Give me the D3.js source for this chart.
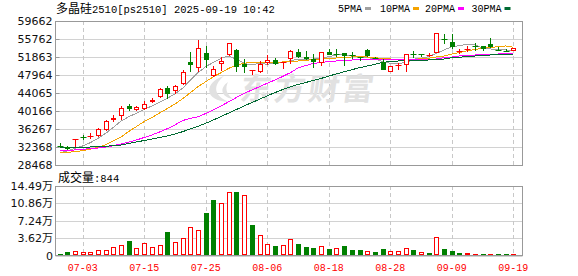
<!DOCTYPE html>
<html lang="zh">
<head>
<meta charset="UTF-8">
<script src="https://cdnjs.cloudflare.com/ajax/libs/d3/7.8.5/d3.min.js"></script>
<title>ps2510</title>
<style>
body{margin:0;background:#fff;}
</style>
</head>
<body>
<script>
var dates = ["06-30","07-01","07-02","07-03","07-04","07-07","07-08","07-09","07-10","07-11",
             "07-14","07-15","07-16","07-17","07-18","07-21","07-22","07-23","07-24","07-25",
             "07-28","07-29","07-30","07-31","08-01","08-04","08-05","08-06","08-07","08-08",
             "08-11","08-12","08-13","08-14","08-15","08-18","08-19","08-20","08-21","08-22",
             "08-25","08-26","08-27","08-28","08-29","09-01","09-02","09-03","09-04","09-05",
             "09-08","09-09","09-10","09-11","09-12","09-15","09-16","09-17","09-18","09-19"];

var open  = [32650,32368,34080,34580,34530,34815,36000,38216,39080,41250,
             40380,40660,42110,43130,45210,44560,45950,50780,49550,52670,
             47680,50280,52230,53380,50280,48980,48614,50630,51214,50700,
             51365,52950,51930,51430,50630,53010,52580,52670,52200,51830,
             53380,51560,50780,48550,49900,50130,52450,52460,52080,52670,
             55750,55050,52880,53560,54300,54246,54610,53450,53250,53230];
var high  = [33170,32480,34130,34970,35400,36550,38150,39300,41250,41620,
             41250,42330,42920,45080,45650,45700,49050,52880,55546,54250,
             49850,51930,54960,53600,51430,49050,51000,52360,51710,50740,
             53380,53600,53100,52450,52880,53660,53530,52700,52950,51850,
             53500,51800,51500,49980,50500,52600,53160,52480,52670,57000,
             56780,56780,53600,54250,54960,54246,56050,53960,53660,53900];
var low   = [32090,31720,32360,33990,34100,34470,35900,37850,38216,40230,
             40100,40380,41840,42980,42700,43850,45800,48550,48680,49550,
             47470,48900,52080,48550,48460,47960,48330,50130,50130,49200,
             50410,51650,51214,49550,49850,52360,51930,49980,51500,51000,
             51950,51360,49110,48550,49050,48550,51710,51960,51800,52670,
             54610,53600,52450,52950,53230,53100,53750,53230,52880,53150];
var close = [32580,31870,34120,34500,34780,36265,38000,38716,40750,40530,
             40970,41680,42550,44930,43780,45580,48680,50200,53750,51150,
             49330,51000,54830,49630,49700,49030,50410,51214,50410,50730,
             53100,51930,51430,50780,52880,52400,52450,52150,52130,51790,
             52020,51480,49110,49980,50050,52513,52360,52400,52360,57000,
             55650,54100,53100,53660,54200,53660,54030,53380,53160,53810];
var volume = [2800,7000,10400,8300,8300,12500,12500,18700,22900,29800,
              16600,27000,18700,22900,48500,29100,37400,60300,54100,88100,
              115100,110300,133000,131800,125500,63100,43700,25000,20800,22900,
              35400,23600,17300,15300,20800,13200,16600,19400,11100,11100,
              9000,6900,13200,10400,10400,14600,11100,6900,4900,39500,
              13200,9000,4900,4200,2000,2000,2000,2000,2000,844];

var ma5  = [31136,31504,32089,32587,33302,34255,35338,36637,38002,38933,
            39670,40536,41251,42052,42919,43850,45085,46883,48464,49763,
            50716,51583,52081,51366,50500,50132,50500,50283,50500,50630,
            51063,51366,51366,51431,51583,51929,52298,52298,52233,51929,
            51799,51431,50846,50500,50500,50630,51366,51583,51929,52666,
            53381,54095,54312,54615,54464,53814,53597,53532,53381,53229];
var ma10 = [31136,31222,31352,31569,31872,32305,32869,33670,34536,35728,
            36811,37894,38760,39735,40709,41684,42811,44132,45431,46514,
            47597,48464,49417,50132,50500,50716,50716,50716,50716,50781,
            50890,50998,51106,51366,51431,51583,51648,51799,51864,51929,
            51864,51713,51539,51431,51323,51215,51366,51475,51583,51864,
            52081,52514,52839,53229,53489,53749,53922,54095,54247,53965];
var ma20 = [31569,31656,31721,31872,32002,32154,32370,32652,33020,33453,
            33887,34428,34970,35619,36334,37136,38110,38543,38933,39626,
            40385,41251,42182,43092,44002,44717,45431,46168,46883,47641,
            48464,49482,50023,50456,50673,50890,50998,51106,51215,51280,
            51366,51366,51323,51215,51215,51215,51280,51366,51366,51431,
            51713,51864,52081,52189,52298,52406,52449,52514,52579,52666];
var ma30 = [32305,32305,32305,32305,32370,32435,32522,32652,32804,33128,
            33453,33778,34103,34428,34753,35186,35684,36269,36854,37504,
            38219,38977,39735,40500,41250,42000,42700,43450,44150,44800,
            45366,45908,46341,46774,47207,47749,48182,48680,49114,49547,
            49915,50283,50716,50846,50998,51063,51150,51171,51215,51323,
            51431,51691,51799,51973,52081,52233,52298,52363,52449,52514];

var priceTicks = [28468,32368,36267,40166,44065,47964,51863,55762,59662];
var volTicks = [0,36200,72400,108600,144900];
var volTickLabels = ["0","3.62万","7.24万","10.86万","14.49万"];
var dateTicks = ["07-03","07-15","07-25","08-06","08-18","08-28","09-09","09-19"];

var maNames = ["5PMA","10PMA","20PMA","30PMA"];
var maColors = ["#a0a0a0","#f5a300","#ff00ff","#006a32"];
var maData = [ma5, ma10, ma20, ma30];

var width = 578, height = 276;
var left = 55.5, right = 522.5;
var pTop = 21, pBottom = 165;
var vTop = 186, vBottom = 255.5;
var UP = "#ff0000", DOWN = "#008000";
var numFont = "'DejaVu Sans','Noto Sans CJK SC',sans-serif";
var monoFont = "'Liberation Mono','DejaVu Sans Mono',monospace";
var cjkFont = "'Noto Sans CJK SC',sans-serif";

var svg = d3.select('body').append('svg')
    .attr('width', width).attr('height', height)
    .style('display','block');

var x = d3.scaleBand().domain(dates).range([55.75, 517.15]);
var cx = function(d){ return x(d) + x.bandwidth()/2; };
var y = d3.scaleLinear().domain([28468, 59662]).range([pBottom, pTop]);
var yv = d3.scaleLinear().domain([0, 144900]).range([vBottom, vTop]);
var px = function(v){ return Math.round(v) + 0.5; };

// grid lines
var grid = svg.append('g');
grid.selectAll('.hp').data(priceTicks).enter().append('line')
    .attr('x1', left).attr('x2', right)
    .attr('y1', function(d){return px(y(d));}).attr('y2', function(d){return px(y(d));})
    .attr('stroke','#d2d2d2');
grid.selectAll('.hv').data(volTicks).enter().append('line')
    .attr('x1', left).attr('x2', right)
    .attr('y1', function(d){return px(yv(d));}).attr('y2', function(d){return px(yv(d));})
    .attr('stroke','#d2d2d2');
[[pTop,pBottom],[vTop,vBottom]].forEach(function(r){
    grid.selectAll(null).data(dateTicks).enter().append('line')
        .attr('x1', function(d){return px(cx(d));}).attr('x2', function(d){return px(cx(d));})
        .attr('y1', r[0]).attr('y2', r[1])
        .attr('stroke','#c8c8c8').attr('stroke-dasharray','4,3');
});

// watermark
var wm = svg.append('g').attr('fill','#e1e1e1');
wm.append('path')
    .attr('d','M224 76 C204 82 203 101 229 102 C214 96 212 86 224 76 Z M228 82 C219 88 221 97 233 99 C226 94 225 88 228 82 Z');
wm.append('text').attr('x', 240).attr('y', 100)
    .attr('font-family', cjkFont).attr('font-weight','bold').attr('font-size', 31)
    .attr('letter-spacing', 3).attr('transform','skewX(-8) translate(13,0)')
    .text('东方财富');

// moving averages
var line = d3.line().x(function(d,i){return cx(dates[i]);}).y(function(d){return y(d);});
svg.append('g').selectAll('path').data(maData).enter().append('path')
    .attr('d', line).attr('fill','none')
    .attr('stroke', function(d,i){return maColors[i];})
    .attr('stroke-width',1).attr('shape-rendering','crispEdges');

// candles
var candles = svg.append('g').selectAll('g').data(dates).enter().append('g');
candles.each(function(d,i){
    var g = d3.select(this);
    var up = close[i] >= open[i];
    var col = up ? UP : DOWN;
    var xc = px(cx(d));
    var yo = Math.round(y(open[i])), yc = Math.round(y(close[i]));
    var top = Math.min(yo, yc), bot = Math.max(yo, yc);
    var yh = Math.round(y(high[i])), yl = Math.round(y(low[i]));
    if (yh < top) g.append('line').attr('x1',xc).attr('x2',xc).attr('y1',yh).attr('y2',top).attr('stroke',col);
    if (yl > bot) g.append('line').attr('x1',xc).attr('x2',xc).attr('y1',bot).attr('y2',yl).attr('stroke',col);
    if (bot - top < 2) {
        g.append('line').attr('x1', xc-3).attr('x2', xc+3).attr('y1', top+0.5).attr('y2', top+0.5).attr('stroke', col);
    } else if (up) {
        g.append('rect').attr('x', xc-2).attr('y', top+0.5).attr('width',4).attr('height', bot-top-1)
            .attr('fill','#fff').attr('stroke', col);
    } else {
        g.append('rect').attr('x', xc-2.5).attr('y', top).attr('width',5).attr('height', bot-top)
            .attr('fill', col);
    }
});

// volume bars
var vols = svg.append('g').selectAll('g').data(dates).enter().append('g');
vols.each(function(d,i){
    var g = d3.select(this);
    var prev = i > 0 ? close[i-1] : open[i];
    var up = close[i] >= prev;
    var xc = px(cx(d));
    var yt = Math.round(yv(volume[i]));
    var yb = Math.floor(vBottom);
    if (yb - yt < 1) yt = yb - 1;
    if (up && yb - yt > 2) {
        g.append('rect').attr('x', xc-2).attr('y', yt+0.5).attr('width',4).attr('height', yb-yt-1)
            .attr('fill','#fff').attr('stroke', UP);
    } else {
        g.append('rect').attr('x', xc-2.5).attr('y', yt).attr('width',5).attr('height', yb-yt)
            .attr('fill', up ? UP : DOWN);
    }
});

// frames
svg.append('rect').attr('x', left).attr('y', pTop+0.5).attr('width', right-left).attr('height', pBottom-pTop)
    .attr('fill','none').attr('stroke','#999');
svg.append('rect').attr('x', left).attr('y', vTop+0.5).attr('width', right-left).attr('height', vBottom-vTop-0.5)
    .attr('fill','none').attr('stroke','#999');

// price axis labels + inner ticks
svg.append('g').selectAll('line').data(priceTicks).enter().append('line')
    .attr('x1', left).attr('x2', left+4)
    .attr('y1', function(d){return px(y(d));}).attr('y2', function(d){return px(y(d));})
    .attr('stroke','#999');
svg.append('g').selectAll('text').data(priceTicks).enter().append('text')
    .attr('x', 52.5).attr('y', function(d){return y(d)+4;})
    .attr('text-anchor','end').attr('font-family', numFont).attr('font-size', 11).attr('fill','#111')
    .text(function(d){return d;});

// volume axis labels
svg.append('g').selectAll('text').data(volTicks).enter().append('text')
    .attr('x', 53).attr('y', function(d){return yv(d)+4;})
    .attr('text-anchor','end').attr('font-family', numFont).attr('font-size', 11).attr('fill','#111')
    .text(function(d,i){return volTickLabels[i];});

// date labels
svg.append('g').selectAll('text').data(dateTicks).enter().append('text')
    .attr('x', function(d){return cx(d);}).attr('y', 270.5)
    .attr('text-anchor','middle').attr('font-family', monoFont).attr('font-size', 10).attr('fill', UP)
    .text(function(d){return d;});

// title
var title = svg.append('text').attr('x', 56).attr('y', 12.5).attr('fill','#000');
title.append('tspan').attr('font-family', cjkFont).attr('font-size', 12).text('多晶硅');
title.append('tspan').attr('font-family', monoFont).attr('font-size', 10.5).text('2510[ps2510] 2025-09-19 10:42');

// legend
var legX = [338, 380, 425, 471.5];
var leg = svg.append('g').selectAll('g').data(maNames).enter().append('g');
leg.append('text').attr('x', function(d,i){return legX[i];}).attr('y', 12)
    .attr('font-family', monoFont).attr('font-size', 10).attr('fill','#000')
    .text(function(d){return d;});
leg.append('rect').attr('x', function(d,i){return legX[i] + d.length*6 + 3;}).attr('y', 7)
    .attr('width', 6).attr('height', 3).attr('fill', function(d,i){return maColors[i];});

// volume caption
var cap = svg.append('text').attr('x', 58).attr('y', 181.5).attr('fill','#000');
cap.append('tspan').attr('font-family', cjkFont).attr('font-size', 12).text('成交量');
cap.append('tspan').attr('font-family', monoFont).attr('font-size', 10.5).text(':' + volume[volume.length-1]);
</script>
</body>
</html>
